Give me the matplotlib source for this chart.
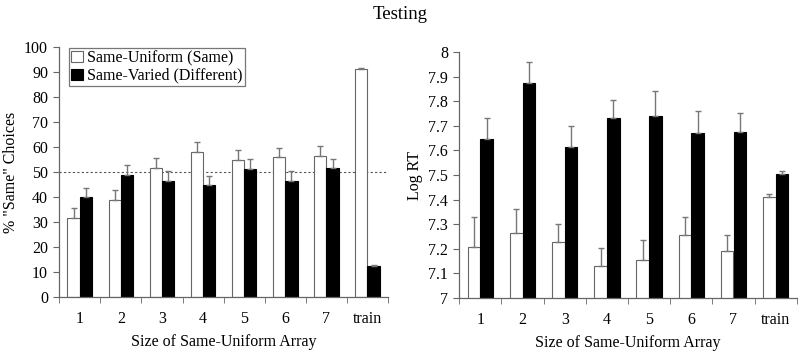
import numpy as np
import matplotlib
matplotlib.use("Agg")
import matplotlib.pyplot as plt

plt.rcParams["font.family"] = ["Liberation Serif", "DejaVu Serif"]

categories = ["1", "2", "3", "4", "5", "6", "7", "train"]

# 左图：% "Same" 选择
same_uniform = [31.7, 38.7, 51.8, 58.2, 54.7, 56.0, 56.6, 91.3]
same_uniform_err = [3.8, 4.0, 4.0, 3.8, 4.0, 3.8, 4.0, 0.4]
same_varied = [40.0, 49.0, 46.3, 44.8, 51.2, 46.3, 51.6, 12.4]
same_varied_err = [3.8, 4.0, 4.0, 3.8, 4.0, 4.0, 3.8, 0.5]

# 右图：Log RT
rt_uniform = [7.208, 7.264, 7.227, 7.132, 7.153, 7.255, 7.190, 7.412]
rt_uniform_err = [0.120, 0.098, 0.074, 0.072, 0.082, 0.076, 0.068, 0.010]
rt_varied = [7.648, 7.876, 7.613, 7.730, 7.742, 7.671, 7.676, 7.505]
rt_varied_err = [0.084, 0.084, 0.087, 0.076, 0.098, 0.088, 0.078, 0.010]

FS = 11.5
x = np.arange(len(categories))
w = 0.3
err_kw = dict(ecolor="#777777", elinewidth=1.0, capsize=2.5, capthick=1.0)


def draw(ax, a, a_err, b, b_err, ylim, yticks, ylabel, ytl):
    ax.bar(x - w / 2, a, w, color="white", edgecolor="#666666", linewidth=0.8,
           yerr=[np.zeros(len(a)), a_err], error_kw=err_kw,
           label="Same-Uniform (Same)", zorder=2)
    ax.bar(x + w / 2, b, w, color="black", edgecolor="black", linewidth=0.8,
           yerr=[np.zeros(len(b)), b_err], error_kw=err_kw,
           label="Same-Varied (Different)", zorder=2)
    ax.set_xlim(-0.5, len(categories) - 0.5)
    ax.set_ylim(*ylim)
    ax.set_yticks(yticks)
    ax.set_yticklabels(ytl, fontsize=FS)
    ax.set_xticks(x)
    ax.set_xticklabels(categories, fontsize=FS)
    ax.set_xticks(np.arange(-0.5, len(categories)), minor=True)
    ax.tick_params(axis="x", which="major", length=0, pad=10)
    ax.tick_params(axis="x", which="minor", length=4, color="#666666")
    ax.tick_params(axis="y", length=4, color="#666666", pad=4)
    for s in ["top", "right"]:
        ax.spines[s].set_visible(False)
    for s in ["left", "bottom"]:
        ax.spines[s].set_color("#666666")
        ax.spines[s].set_linewidth(0.9)
    ax.set_ylabel(ylabel, fontsize=FS)
    ax.set_xlabel("Size of Same-Uniform Array", fontsize=FS, labelpad=5)


fig = plt.figure(figsize=(8, 3.54), dpi=100)
ax1 = fig.add_axes([0.074, 0.161, 0.411, 0.706])
ax2 = fig.add_axes([0.574, 0.158, 0.422, 0.695])

draw(ax1, same_uniform, same_uniform_err, same_varied, same_varied_err,
     (0, 100), np.arange(0, 101, 10), '% "Same" Choices',
     [str(v) for v in range(0, 101, 10)])
ax1.axhline(50, color="#555555", linestyle=(0, (2, 2)), linewidth=0.8, zorder=1)
leg = ax1.legend(loc="upper left", bbox_to_anchor=(0.02, 1.01), fontsize=FS,
                 frameon=True, fancybox=False, edgecolor="#555555",
                 handlelength=0.7, handleheight=0.7, handletextpad=0.3,
                 borderpad=0.15, labelspacing=0.1, borderaxespad=0.2)
leg.get_frame().set_linewidth(0.9)

rt_ticks = np.round(np.arange(7.0, 8.01, 0.1), 1)
draw(ax2, rt_uniform, rt_uniform_err, rt_varied, rt_varied_err,
     (7, 8), rt_ticks, "Log RT",
     ["7" if v == 7 else ("8" if v == 8 else f"{v:.1f}") for v in rt_ticks])

fig.text(0.5, 0.958, "Testing", ha="center", va="center", fontsize=13.5)

fig.savefig("out.png", dpi=100)
